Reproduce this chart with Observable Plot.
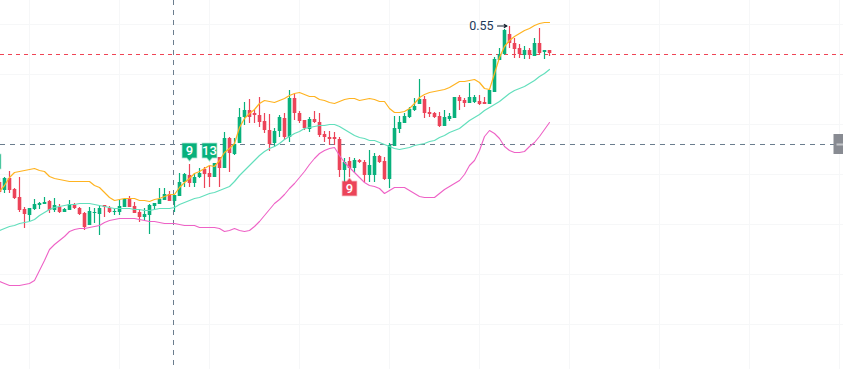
<!DOCTYPE html>
<html>
<head>
<meta charset="utf-8">
<style>html,body{margin:0;padding:0;background:#fff}svg{display:block}</style>
<script src="https://cdn.jsdelivr.net/npm/d3@7"></script>
<script src="https://cdn.jsdelivr.net/npm/@observablehq/plot@0.6"></script>
</head>
<body>
<script>
// Prices in ten-thousandths, bar -1 to 109
const opens=[4872,4840,4888,4844,4812,4764,4740,4764,4780,4784,4796,4760,4772,4752,4760,4780,4768,4748,4700,4748,4744,4780,4768,4752,4752,4772,4808,4776,4752,4732,4740,4776,4784,4800,4824,4796,4816,4872,4900,4868,4892,4924,4908,4892,4972,4928,5048,4984,5028,5132,5160,5148,5140,5116,5080,5028,5076,5128,5052,5208,5148,5120,5084,5124,5112,5064,5052,5052,5044,4920,4956,4928,4960,4952,4900,4900,4976,4956,4884,5016,5084,5108,5132,5160,5184,5204,5152,5148,5136,5096,5124,5128,5212,5200,5188,5192,5196,5192,5184,5232,5360,5384,5464,5428,5408,5380,5400,5376,5428,5392,5400];
const closes=[4832,4888,4840,4808,4760,4744,4768,4784,4788,4792,4760,4780,4752,4764,4784,4768,4744,4692,4756,4752,4768,4772,4752,4756,4776,4804,4772,4748,4732,4744,4780,4788,4804,4824,4796,4820,4872,4904,4868,4892,4908,4904,4892,4948,4928,5048,4988,5024,5132,5160,5132,5140,5112,5080,5024,5076,5132,5052,5208,5148,5116,5088,5124,5112,5060,5052,5044,5044,4920,4952,4928,4960,4952,4900,4940,4976,4952,4884,5020,5088,5112,5136,5164,5176,5204,5148,5144,5132,5096,5132,5136,5212,5196,5188,5212,5212,5184,5184,5240,5364,5384,5480,5428,5404,5384,5400,5380,5428,5388,5400,5388];
const highs=[4888,4892,4916,4848,4892,4772,4768,4804,4792,4812,4800,4808,4784,4768,4800,4788,4772,4752,4772,4768,4776,4780,4776,4768,4800,4804,4816,4792,4760,4768,4784,4788,4848,4848,4836,4820,4908,4908,4944,4908,4928,4932,4936,4948,4972,5072,5052,5048,5168,5192,5204,5160,5212,5148,5144,5088,5140,5148,5240,5228,5156,5120,5132,5156,5148,5076,5076,5072,5052,4968,4972,4968,4964,4960,5000,4988,4980,4972,5028,5136,5136,5148,5172,5208,5284,5216,5172,5152,5152,5160,5148,5212,5220,5208,5268,5220,5220,5212,5240,5372,5408,5484,5496,5448,5424,5416,5408,5448,5488,5400,5400];
const lows=[4824,4828,4828,4804,4752,4688,4716,4760,4764,4784,4748,4752,4748,4752,4760,4764,4740,4680,4700,4708,4660,4732,4748,4740,4740,4772,4772,4748,4712,4720,4664,4760,4784,4800,4796,4752,4816,4852,4852,4852,4888,4848,4852,4892,4852,4928,4912,4980,5028,5100,5108,5108,5092,5068,4996,5012,5052,5040,5032,5120,5108,5080,5072,5108,5052,5032,5020,5020,4892,4872,4892,4908,4948,4872,4872,4872,4948,4880,4848,5016,5068,5108,5128,5156,5184,5128,5132,5128,5092,5096,5116,5128,5160,5172,5188,5188,5180,5184,5184,5232,5360,5380,5408,5368,5368,5364,5364,5376,5380,5364,5376];
const upper=[4836,4860,4892,4912,4916,4920,4924,4928,4920,4916,4896,4888,4884,4880,4876,4876,4876,4876,4876,4860,4852,4832,4812,4800,4804,4808,4808,4808,4800,4800,4796,4804,4808,4816,4824,4824,4852,4872,4888,4908,4916,4928,4940,4936,4960,4992,5008,5028,5092,5128,5148,5164,5188,5200,5196,5192,5200,5208,5220,5228,5232,5224,5216,5216,5204,5200,5192,5188,5196,5204,5208,5208,5200,5204,5208,5204,5196,5196,5168,5152,5152,5156,5168,5188,5212,5224,5232,5236,5240,5244,5252,5264,5276,5276,5280,5284,5272,5248,5244,5308,5372,5416,5440,5456,5468,5480,5488,5500,5508,5512,5512];
const middle=[4680,4688,4696,4700,4708,4712,4716,4724,4740,4752,4764,4772,4776,4780,4784,4784,4788,4788,4788,4784,4780,4776,4772,4768,4768,4768,4768,4764,4764,4760,4760,4764,4768,4768,4768,4772,4784,4792,4800,4808,4812,4820,4828,4832,4840,4848,4856,4876,4900,4920,4940,4960,4980,4996,5008,5016,5028,5044,5056,5068,5076,5088,5092,5096,5100,5100,5104,5104,5096,5084,5072,5060,5052,5048,5040,5040,5032,5024,5016,5008,5004,5008,5012,5020,5024,5028,5036,5040,5052,5060,5072,5080,5088,5104,5120,5132,5144,5160,5172,5184,5196,5212,5228,5240,5248,5256,5268,5280,5296,5308,5324];
const lower=[4476,4468,4460,4460,4460,4464,4468,4480,4520,4560,4604,4624,4640,4656,4676,4684,4688,4688,4692,4696,4700,4712,4720,4724,4728,4728,4728,4728,4724,4720,4716,4716,4712,4708,4708,4708,4704,4700,4700,4700,4692,4692,4692,4692,4688,4676,4680,4688,4680,4676,4680,4696,4716,4740,4764,4788,4804,4824,4848,4868,4892,4916,4944,4968,4988,5000,5008,5012,4980,4952,4932,4912,4892,4872,4860,4856,4848,4828,4840,4852,4852,4852,4840,4828,4816,4812,4812,4812,4828,4844,4856,4868,4880,4904,4940,4960,5000,5056,5080,5068,5048,5016,5000,4992,4992,4996,5016,5032,5056,5084,5112];
const gridBars=[5,23,41,59,77,95,113,131,149,167];
const gridPrices=[0.5504,0.5304,0.5104,0.4904,0.4704,0.4504,0.4304];
const lastPrice=0.5384, crossPrice=0.5024, crossBar=33.8;
const highLabel="0.55", highPrice=0.5498;
const sell=[{bar:37,price:0.5,label:"9"},{bar:41,price:0.5,label:"13"},{bar:-2.2,price:0.4956,label:""}];
const buy=[{bar:69,price:0.4848,label:"9"}];

const P=v=>v/1e4, green="#08b17c", red="#ec4459", dashGray="#6b7d8e";
const bars=opens.map((o,k)=>({bar:k-1,o:P(o),c:P(closes[k]),h:P(highs[k]),l:P(lows[k])}));
const band=(a)=>a.map((v,k)=>({bar:k-1,v:P(v)}));
const flagDown={draw(c,size){const r=Math.sqrt(size/Math.PI);c.moveTo(-r,-r);c.lineTo(r,-r);c.lineTo(r,r);c.lineTo(2.5,r);c.lineTo(0,r+3);c.lineTo(-2.5,r);c.lineTo(-r,r);c.closePath();}};
const flagUp={draw(c,size){const r=Math.sqrt(size/Math.PI);c.moveTo(-r,r);c.lineTo(r,r);c.lineTo(r,-r);c.lineTo(2.5,-r);c.lineTo(0,-r-3);c.lineTo(-2.5,-r);c.lineTo(-r,-r);c.closePath();}};
const col=d=>d.c>=d.o?green:red;
const plot=Plot.plot({
  width:843,height:369,margin:0,
  style:{background:"#fff",fontFamily:"Roboto, sans-serif"},
  x:{type:"linear",domain:[-0.8,167.8],range:[0,843],axis:null},
  y:{type:"linear",domain:[0.56,0.4124],range:[0,369],axis:null},
  marks:[
    Plot.ruleX(gridBars,{x:d=>d,stroke:"#f6f7f8",strokeWidth:1}),
    Plot.ruleY(gridPrices,{y:d=>d,stroke:"#f6f7f8",strokeWidth:1}),
    Plot.ruleY([crossPrice],{y:d=>d,stroke:dashGray,strokeWidth:1,strokeDasharray:"5,5"}),
    Plot.ruleX([crossBar],{x:d=>d,stroke:dashGray,strokeWidth:1,strokeDasharray:"5,5"}),
    Plot.ruleY([lastPrice],{y:d=>d,stroke:"#ef4455",strokeWidth:1,strokeDasharray:"4,4"}),
    Plot.ruleX(bars,{x:"bar",y1:"l",y2:"h",stroke:col,strokeWidth:1.2}),
    Plot.ruleX(bars,{x:"bar",y1:"o",y2:"c",stroke:col,strokeWidth:3.6}),
    Plot.line(band(lower),{x:"bar",y:"v",stroke:"#ee62c6",strokeWidth:1.1}),
    Plot.line(band(middle),{x:"bar",y:"v",stroke:"#62dfbc",strokeWidth:1.2}),
    Plot.line(band(upper),{x:"bar",y:"v",stroke:"#ffb320",strokeWidth:1.2}),
    Plot.dot(sell,{x:"bar",y:"price",r:7,symbol:flagDown,fill:green,stroke:green,strokeOpacity:0.45,strokeWidth:1.5}),
    Plot.dot(buy,{x:"bar",y:"price",r:7,symbol:flagUp,fill:red,stroke:red,strokeOpacity:0.45,strokeWidth:1.5}),
    Plot.text(sell.concat(buy),{x:"bar",y:"price",text:"label",fill:"#fff",fontSize:13,fontWeight:500}),
    Plot.text([highLabel],{x:[97.8],y:[highPrice],text:d=>d,textAnchor:"end",fill:"#1c3a5a",fontSize:12.5}),
    Plot.arrow([0],{x1:()=>98.6,x2:()=>100.5,y1:()=>highPrice,y2:()=>highPrice,stroke:"#14202e",strokeWidth:1.1,headLength:6,bend:0}),
    Plot.rect([0],{x1:()=>165.9,x2:()=>168,y1:()=>0.5064,y2:()=>0.4984,fill:"#888b92"}),
    Plot.ruleY([crossPrice],{y:d=>d,x1:()=>166.5,x2:()=>168,stroke:"#c4c6ca",strokeWidth:2})
  ]
});
document.body.appendChild(plot);
if(![closes,highs,lows,upper,middle,lower].every(a=>a.length===opens.length)) throw new Error("len "+[opens,closes,highs,lows,upper,middle,lower].map(a=>a.length));
</script>
</body>
</html>
